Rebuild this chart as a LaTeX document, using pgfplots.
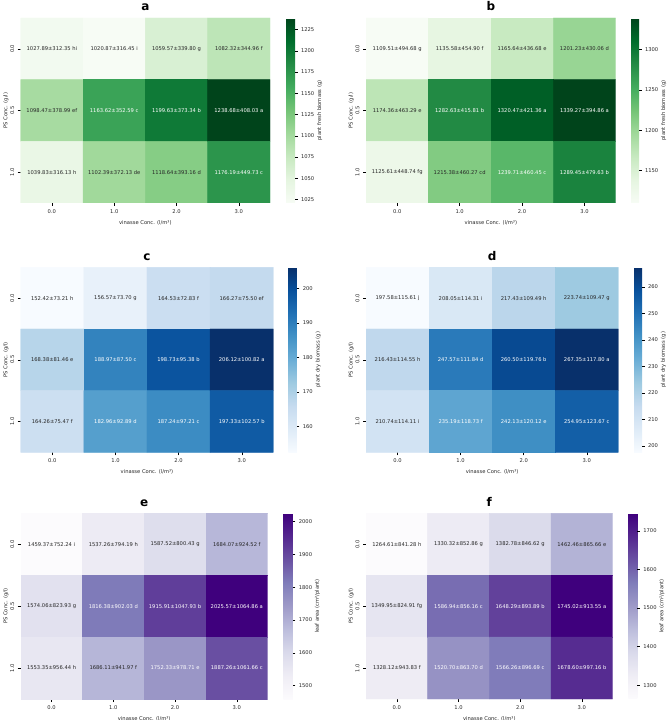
\documentclass[border=0pt]{standalone}
\usepackage{fontspec}
\setmainfont{DejaVu Sans}
\usepackage{pgfplots}
\usepackage{pgfplotstable}
\pgfplotsset{compat=1.18}
\definecolor{dtext}{rgb}{0.15,0.15,0.15}
\newcommand\fsz{\fontsize{5.2}{6.2}\selectfont}
\pgfplotsset{
  colormap={greens}{rgb255=(247,252,245) rgb255=(229,245,224) rgb255=(199,233,192) rgb255=(161,217,155) rgb255=(116,196,118) rgb255=(65,171,93) rgb255=(35,139,69) rgb255=(0,109,44) rgb255=(0,68,27)},
  colormap={blues}{rgb255=(247,251,255) rgb255=(222,235,247) rgb255=(198,219,239) rgb255=(158,202,225) rgb255=(107,174,214) rgb255=(66,146,198) rgb255=(33,113,181) rgb255=(8,81,156) rgb255=(8,48,107)},
  colormap={purples}{rgb255=(252,251,253) rgb255=(239,237,245) rgb255=(218,218,235) rgb255=(188,189,220) rgb255=(158,154,200) rgb255=(128,125,186) rgb255=(106,81,163) rgb255=(84,39,143) rgb255=(63,0,125)},
  hm/.style={
    scale only axis, anchor=south west,
    xmin=-0.5, xmax=3.5, ymin=-0.5, ymax=2.5, y dir=reverse, enlargelimits=false,
    xtick={0,1,2,3}, xticklabels={0.0,1.0,2.0,3.0},
    ytick={0,1,2}, yticklabels={0.0,0.5,1.0},
    yticklabel style={rotate=90, anchor=south},
    xtick pos=bottom, ytick pos=left, tick align=outside, major tick length=3pt,
    tick style={black, line width=0.4pt},
    axis line style={draw=none},
    ticklabel style={font=\fsz, text=dtext},
    label style={font=\fsz, text=dtext},
    xlabel={vinasse Conc. (l/m³)}, ylabel={PS Conc. (g/l)},
    ylabel shift=-5pt,
    title style={font=\fontsize{12}{14}\selectfont\bfseries, anchor=base, at={(0.5,1)}, yshift=1pt},
    colorbar,
  },
  cb/.style={
    at={(parent axis.north east)}, anchor=north west,
    scale only axis,
    ytick pos=right, yticklabel pos=right, tick align=outside, major tick length=2.5pt,
    tick style={black, line width=0.4pt},
    axis line style={draw=none},
    ticklabel style={font=\fsz, text=dtext},
    label style={font=\fsz, text=dtext},
    ylabel shift=-4pt,
    /pgf/number format/1000 sep={},
    /pgf/number format/assume math mode=true,
  },
  dk/.style={draw=none, mark=none, point meta=explicit symbolic, nodes near coords,
    every node near coord/.append style={font=\fsz, anchor=center, inner sep=0pt, text=dtext}},
  wt/.style={draw=none, mark=none, point meta=explicit symbolic, nodes near coords,
    every node near coord/.append style={font=\fsz, anchor=center, inner sep=0pt, text=white}},
}
\pgfplotstableread{
x y v
0 0 1027.89
1 0 1020.87
2 0 1059.57
3 0 1082.32
0 1 1098.47
1 1 1163.62
2 1 1199.63
3 1 1238.68
0 2 1039.83
1 2 1102.39
2 2 1118.64
3 2 1176.19
}\tA
\pgfplotstableread{
x y v
0 0 1109.51
1 0 1135.58
2 0 1165.64
3 0 1201.23
0 1 1174.36
1 1 1282.63
2 1 1320.47
3 1 1339.27
0 2 1125.61
1 2 1215.38
2 2 1239.71
3 2 1289.45
}\tB
\pgfplotstableread{
x y v
0 0 152.42
1 0 156.57
2 0 164.53
3 0 166.27
0 1 168.38
1 1 188.97
2 1 198.73
3 1 206.12
0 2 164.26
1 2 182.96
2 2 187.24
3 2 197.33
}\tC
\pgfplotstableread{
x y v
0 0 197.58
1 0 208.05
2 0 217.43
3 0 223.74
0 1 216.43
1 1 247.57
2 1 260.50
3 1 267.35
0 2 210.74
1 2 235.19
2 2 242.13
3 2 254.95
}\tD
\pgfplotstableread{
x y v
0 0 1459.37
1 0 1537.26
2 0 1587.52
3 0 1684.07
0 1 1574.06
1 1 1816.38
2 1 1915.91
3 1 2025.57
0 2 1553.35
1 2 1686.11
2 2 1752.33
3 2 1887.26
}\tE
\pgfplotstableread{
x y v
0 0 1264.61
1 0 1330.32
2 0 1382.78
3 0 1462.46
0 1 1349.95
1 1 1586.94
2 1 1648.29
3 1 1745.02
0 2 1328.12
1 2 1520.70
2 2 1566.26
3 2 1678.60
}\tF
\begin{document}
\begin{tikzpicture}
\useasboundingbox (0,0) rectangle (669pt,720pt);
% a
\begin{axis}[hm, at={(20.7pt,517pt)}, width=249.3pt, height=185pt, title={a},
  colormap name=greens, point meta min=1020.87, point meta max=1238.68,
  colorbar style={cb, xshift=7.5pt, width=9pt, ytick={1025,1050,...,1225}, ylabel={plant fresh biomass (g)}}]
\addplot[matrix plot*, mesh/cols=4, point meta=explicit] table[x=x,y=y,meta=v]{\tA};
\addplot[dk] coordinates {(0,0) [1027.89±312.35 hi] (1,0) [1020.87±316.45 i] (2,0) [1059.57±339.80 g] (3,0) [1082.32±344.96 f]
  (0,1) [1098.47±378.99 ef] (0,2) [1039.83±316.13 h] (1,2) [1102.39±372.13 de] (2,2) [1118.64±393.16 d]};
\addplot[wt] coordinates {(1,1) [1163.62±352.59 c] (2,1) [1199.63±373.34 b] (3,1) [1238.68±408.03 a] (3,2) [1176.19±449.73 c]};
\end{axis}
% b
\begin{axis}[hm, at={(366pt,517pt)}, width=249.7pt, height=185pt, title={b},
  colormap name=greens, point meta min=1109.51, point meta max=1339.27,
  colorbar style={cb, xshift=6.8pt, width=8pt, ytick={1150,1200,...,1300}, ylabel={plant fresh biomass (g)}}]
\addplot[matrix plot*, mesh/cols=4, point meta=explicit] table[x=x,y=y,meta=v]{\tB};
\addplot[dk] coordinates {(0,0) [1109.51±494.68 g] (1,0) [1135.58±454.90 f] (2,0) [1165.64±436.68 e] (3,0) [1201.23±430.06 d]
  (0,1) [1174.36±463.29 e] (0,2) [1125.61±448.74 fg] (1,2) [1215.38±460.27 cd]};
\addplot[wt] coordinates {(1,1) [1282.63±415.81 b] (2,1) [1320.47±421.36 a] (3,1) [1339.27±394.86 a] (2,2) [1239.71±460.45 c] (3,2) [1289.45±479.63 b]};
\end{axis}
% c
\begin{axis}[hm, at={(20.7pt,267.7pt)}, width=252.6pt, height=185pt, title={c},
  colormap name=blues, point meta min=152.42, point meta max=206.12,
  colorbar style={cb, xshift=6.5pt, width=8.5pt, ytick={160,170,...,200}, ylabel={plant dry biomass (g)}}]
\addplot[matrix plot*, mesh/cols=4, point meta=explicit] table[x=x,y=y,meta=v]{\tC};
\addplot[dk] coordinates {(0,0) [152.42±73.21 h] (1,0) [156.57±73.70 g] (2,0) [164.53±72.83 f] (3,0) [166.27±75.50 ef]
  (0,1) [168.38±81.46 e] (0,2) [164.26±75.47 f]};
\addplot[wt] coordinates {(1,1) [188.97±87.50 c] (2,1) [198.73±95.38 b] (3,1) [206.12±100.82 a]
  (1,2) [182.96±92.89 d] (2,2) [187.24±97.21 c] (3,2) [197.33±102.57 b]};
\end{axis}
% d
\begin{axis}[hm, at={(366pt,267.7pt)}, width=252.3pt, height=185pt, title={d},
  colormap name=blues, point meta min=197.58, point meta max=267.35,
  colorbar style={cb, xshift=7.2pt, width=8pt, ytick={200,210,...,260}, ylabel={plant dry biomass (g)}}]
\addplot[matrix plot*, mesh/cols=4, point meta=explicit] table[x=x,y=y,meta=v]{\tD};
\addplot[dk] coordinates {(0,0) [197.58±115.61 j] (1,0) [208.05±114.31 i] (2,0) [217.43±109.49 h] (3,0) [223.74±109.47 g]
  (0,1) [216.43±114.55 h] (0,2) [210.74±114.11 i]};
\addplot[wt] coordinates {(1,1) [247.57±111.84 d] (2,1) [260.50±119.76 b] (3,1) [267.35±117.80 a]
  (1,2) [235.19±118.73 f] (2,2) [242.13±120.12 e] (3,2) [254.95±123.67 c]};
\end{axis}
% e
\begin{axis}[hm, at={(20.7pt,21pt)}, width=247pt, height=185.7pt, title={e},
  colormap name=purples, point meta min=1459.37, point meta max=2025.57,
  colorbar style={cb, xshift=7.1pt, width=9.5pt, ytick={1500,1600,...,2000}, ylabel={leaf area (cm²/plant)}}]
\addplot[matrix plot*, mesh/cols=4, point meta=explicit] table[x=x,y=y,meta=v]{\tE};
\addplot[dk] coordinates {(0,0) [1459.37±752.24 i] (1,0) [1537.26±794.19 h] (2,0) [1587.52±800.43 g] (3,0) [1684.07±924.52 f]
  (0,1) [1574.06±823.93 g] (0,2) [1553.35±956.44 h] (1,2) [1686.11±941.97 f]};
\addplot[wt] coordinates {(1,1) [1816.38±902.03 d] (2,1) [1915.91±1047.93 b] (3,1) [2025.57±1064.86 a]
  (2,2) [1752.33±978.71 e] (3,2) [1887.26±1061.66 c]};
\end{axis}
% f
\begin{axis}[hm, at={(366pt,21pt)}, width=246.7pt, height=185.7pt, title={f},
  colormap name=purples, point meta min=1264.61, point meta max=1745.02,
  colorbar style={cb, xshift=7.1pt, width=9pt, ytick={1300,1400,...,1700}, ylabel={leaf area (cm²/plant)}}]
\addplot[matrix plot*, mesh/cols=4, point meta=explicit] table[x=x,y=y,meta=v]{\tF};
\addplot[dk] coordinates {(0,0) [1264.61±841.28 h] (1,0) [1330.32±852.86 g] (2,0) [1382.78±846.62 g] (3,0) [1462.46±865.66 e]
  (0,1) [1349.95±824.91 fg] (0,2) [1328.12±943.83 f]};
\addplot[wt] coordinates {(1,1) [1586.94±856.16 c] (2,1) [1648.29±893.89 b] (3,1) [1745.02±913.55 a]
  (1,2) [1520.70±863.70 d] (2,2) [1566.26±896.69 c] (3,2) [1678.60±997.16 b]};
\end{axis}
\end{tikzpicture}
\end{document}
